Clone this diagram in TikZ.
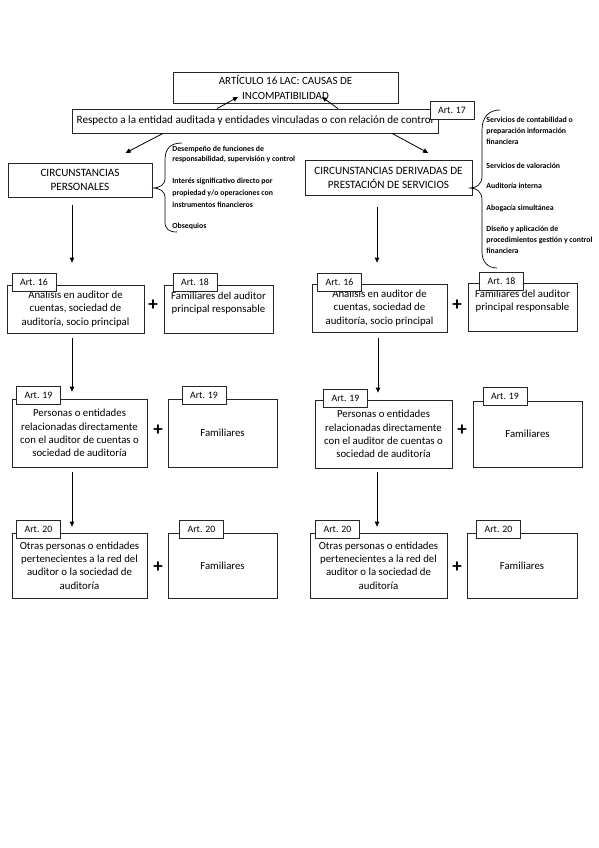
\documentclass[tikz,border=0pt]{standalone}
\usepackage{fontspec}
\setmainfont{Carlito}
\usetikzlibrary{arrows.meta}

\begin{document}
\begin{tikzpicture}[x=1pt, y=-1pt, >={Triangle[length=5pt, width=4.5pt]}, line width=0.8pt,
        box/.style={draw=black!85, fill=white, align=center, inner sep=1pt, font=\fontsize{10.8}{13.4}\selectfont},
        tag/.style={draw=black!85, fill=white, minimum width=44, minimum height=18, inner sep=0pt, font=\fontsize{9.8}{11}\selectfont},
        note/.style={anchor=north west, align=left, inner sep=0pt, font=\fontsize{7.8}{11}\bfseries\selectfont},
        plus/.style={inner sep=0pt, font=\fontsize{19}{19}\bfseries\selectfont}]
            \useasboundingbox[fill=white] (0, 0) rectangle (599, 848);

            \node[box, minimum width=225, minimum height=31, font=\fontsize{11}{15}\selectfont] (T) at (285.5, 87.5) {ARTÍCULO 16 LAC: CAUSAS DE\\INCOMPATIBILIDAD};
            \node[box, minimum width=366, minimum height=24, font=\fontsize{11.1}{13}\selectfont] (R) at (255, 121) {Respecto a la entidad auditada y entidades vinculadas o con relación de control};
            \node[tag] (A17) at (452, 110) {Art. 17};
            \coordinate (Tl) at (238, 97);
            \coordinate (Tr) at (322, 97);
            \draw[->] ([xshift=-38]R.north) -- (Tl);
            \draw[->] ([xshift=83]R.north) -- (Tr);

            \node[box, minimum width=144, minimum height=34, font=\fontsize{11.2}{14}\selectfont] (CP) at (80, 180) {CIRCUNSTANCIAS\\PERSONALES};
            \node[box, minimum width=167, minimum height=35, font=\fontsize{11.2}{14}\selectfont] (CD) at (388.5, 177.5) {CIRCUNSTANCIAS DERIVADAS DE\\PRESTACIÓN DE SERVICIOS};
            \draw[->, shorten >=21pt] ([xshift=-92]R.south) -- ([xshift=27]CP.north);
            \draw[->, shorten >=14pt] ([xshift=137]R.south) -- ([xshift=52]CD.north);

            \draw[line width=0.7pt] (182, 143) .. controls (170, 143) and (165, 149) .. (165, 160) -- (165, 178)
                .. controls (165, 185) and (160, 188) .. (152, 188) .. controls (160, 188) and (165, 191) .. (165, 198)
                -- (165, 222) .. controls (165, 229) and (169, 232) .. (177, 232);
            \node[note] (N1) at (172, 146) {Desempeño de funciones de\\[-1pt]responsabilidad, supervisión y control};
            \node[note] (N2) at (172, 178) {Interés significativo directo por\\[1pt]propiedad y/o operaciones con\\[1pt]instrumentos financieros};
            \node[note] (N3) at (172, 223) {Obsequios};

            \draw[line width=0.7pt] (500, 110) .. controls (488, 110) and (482, 118) .. (482, 130) -- (482, 176)
                .. controls (482, 184) and (477, 188) .. (470, 188) .. controls (477, 188) and (482, 192) .. (482, 200)
                -- (482, 252) .. controls (482, 262) and (488, 268) .. (497, 268);
            \node[note] (S1) at (486, 117) {Servicios de contabilidad o\\preparación información\\financiera};
            \node[note] (S2) at (486, 163) {Servicios de valoración};
            \node[note] (S3) at (486, 183) {Auditoría interna};
            \node[note] (S4) at (486, 205) {Abogacía simultánea};
            \node[note] (S5) at (486, 226) {Diseño y aplicación de\\procedimientos gestión y control\\financiera};

            \node[box, minimum width=137, minimum height=48] (L16) at (75.5, 309) {Análisis en auditor de\\cuentas, sociedad de\\auditoría, socio principal};
            \node[tag] (L16a) at (34, 282) {Art. 16};
            \node[plus] (P1) at (153, 305) {+};
            \node[box, minimum width=109, minimum height=48] (L18) at (218.5, 309) {Familiares del auditor\\principal responsable\\};
            \node[tag] (L18a) at (195, 282) {Art. 18};

            \node[box, minimum width=135, minimum height=68] (L19) at (79.5, 433) {Personas o entidades\\relacionadas directamente\\con el auditor de cuentas o\\sociedad de auditoría};
            \node[tag] (L19a) at (38.5, 395) {Art. 19};
            \node[plus] (P2) at (158, 430) {+};
            \node[box, minimum width=109, minimum height=68] (L19f) at (222.5, 433) {Familiares};
            \node[tag] (L19b) at (204, 395) {Art. 19};

            \node[box, minimum width=135, minimum height=65] (L20) at (79.5, 565.5) {Otras personas o entidades\\pertenecientes a la red del\\auditor o la sociedad de\\auditoría};
            \node[tag] (L20a) at (38.5, 529) {Art. 20};
            \node[plus] (P3) at (158, 567) {+};
            \node[box, minimum width=109, minimum height=65] (L20f) at (222.5, 565.5) {Familiares};
            \node[tag] (L20b) at (201.5, 529) {Art. 20};

            \node[box, minimum width=135, minimum height=48] (R16) at (379.5, 308) {Análisis en auditor de\\cuentas, sociedad de\\auditoría, socio principal};
            \node[tag] (R16a) at (339.5, 282) {Art. 16};
            \node[plus] (P4) at (457, 305) {+};
            \node[box, minimum width=109, minimum height=48] (R18) at (522.5, 307) {Familiares del auditor\\principal responsable\\};
            \node[tag] (R18a) at (501.5, 281) {Art. 18};

            \node[box, minimum width=137, minimum height=68] (R19) at (383.5, 434) {Personas o entidades\\relacionadas directamente\\con el auditor de cuentas o\\sociedad de auditoría};
            \node[tag] (R19a) at (345.5, 398.5) {Art. 19};
            \node[plus] (P5) at (462, 430) {+};
            \node[box, minimum width=109, minimum height=66] (R19f) at (527.5, 434) {Familiares};
            \node[tag] (R19b) at (505, 396.5) {Art. 19};

            \node[box, minimum width=137, minimum height=65] (R20) at (378.5, 565.5) {Otras personas o entidades\\pertenecientes a la red del\\auditor o la sociedad de\\auditoría};
            \node[tag] (R20a) at (337.5, 529) {Art. 20};
            \node[plus] (P6) at (457, 567) {+};
            \node[box, minimum width=110, minimum height=65] (R20f) at (522, 565.5) {Familiares};
            \node[tag] (R20b) at (498.5, 529) {Art. 20};

            \draw[->, shorten <=8pt, shorten >=22pt] ([xshift=-8]CP.south) -- ([xshift=-8]CP.south |- L16.north);
            \draw[->, shorten <=12pt, shorten >=21pt] ([xshift=-11.5]CD.south) -- ([xshift=-11.5]CD.south |- R16.north);
            \draw[->, shorten <=5pt, shorten >=7pt] ([xshift=-3.5]L16.south) -- ([xshift=-3.5]L16.south |- L19.north);
            \draw[->, shorten <=6pt, shorten >=7pt] ([xshift=-1.5]R16.south) -- ([xshift=-1.5]R16.south |- R19.north);
            \draw[->, shorten <=5pt, shorten >=6pt] ([xshift=-7.5]L19.south) -- ([xshift=-7.5]L19.south |- L20.north);
            \draw[->, shorten <=4pt, shorten >=6pt] ([xshift=-6.5]R19.south) -- ([xshift=-6.5]R19.south |- R20.north);
        \end{tikzpicture}
\end{document}
